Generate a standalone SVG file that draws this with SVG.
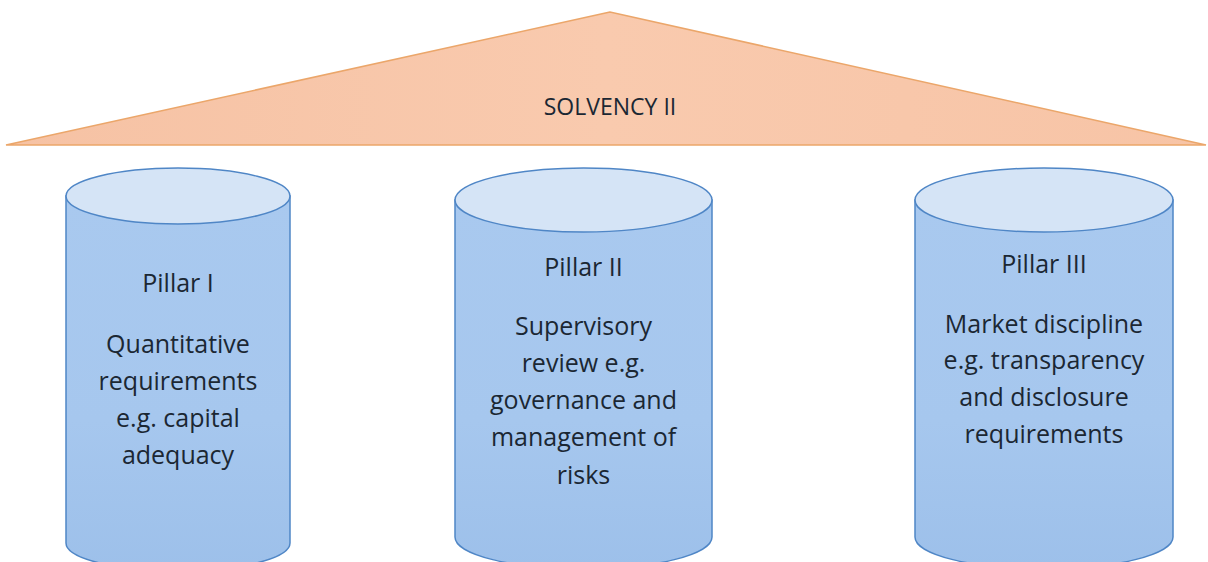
<svg xmlns="http://www.w3.org/2000/svg" width="1208" height="562" viewBox="0 0 1208 562">
<defs>
<linearGradient id="roof" x1="0" y1="0" x2="1" y2="0">
<stop offset="0" stop-color="#f6c2a4"/>
<stop offset="0.5" stop-color="#f9caae"/>
<stop offset="1" stop-color="#f7c4a6"/>
</linearGradient>
<linearGradient id="body" x1="0" y1="0" x2="0" y2="1">
<stop offset="0" stop-color="#a9c9ef"/>
<stop offset="0.6" stop-color="#a6c7ee"/>
<stop offset="1" stop-color="#9dc0ea"/>
</linearGradient>
<style>
.roof{fill:url(#roof);stroke:#eba66a;stroke-width:1.5}
.body{fill:url(#body);stroke:#4f86c6;stroke-width:1.5}
.top{fill:#d5e4f6;stroke:#4f86c6;stroke-width:1.5}
.t{font-family:"Open Sans","Liberation Sans",sans-serif;font-size:25px;fill:#1b2733;text-anchor:middle}
.h{font-family:"Open Sans","Liberation Sans",sans-serif;font-size:23px;fill:#1b2733;text-anchor:middle}
</style>
</defs>
<g id="solvency">
<polygon class="roof" points="610,12 6,145 1206,145"/>
<text class="h" x="610" y="115">SOLVENCY II</text>
</g>
<g id="pillar1">
<path class="body" d="M66,196 L66,543 A112,28 0 0 0 290,543 L290,196 Z"/>
<ellipse class="top" cx="178" cy="196" rx="112" ry="28"/>
<text class="t" x="178" y="292">Pillar I</text>
<text class="t" x="178" y="353">Quantitative</text>
<text class="t" x="178" y="390">requirements</text>
<text class="t" x="178" y="427">e.g. capital</text>
<text class="t" x="178" y="464">adequacy</text>
</g>
<g id="pillar2">
<path class="body" d="M455,200 L455,537 A128.5,32 0 0 0 712,537 L712,200 Z"/>
<ellipse class="top" cx="583.5" cy="200" rx="128.5" ry="32"/>
<text class="t" x="583.5" y="276">Pillar II</text>
<text class="t" x="583.5" y="335">Supervisory</text>
<text class="t" x="583.5" y="372">review e.g.</text>
<text class="t" x="583.5" y="409">governance and</text>
<text class="t" x="583.5" y="446">management of</text>
<text class="t" x="583.5" y="484">risks</text>
</g>
<g id="pillar3">
<path class="body" d="M915,200 L915,537 A129,32 0 0 0 1173,537 L1173,200 Z"/>
<ellipse class="top" cx="1044" cy="200" rx="129" ry="32"/>
<text class="t" x="1044" y="273">Pillar III</text>
<text class="t" x="1044" y="333">Market discipline</text>
<text class="t" x="1044" y="369">e.g. transparency</text>
<text class="t" x="1044" y="406">and disclosure</text>
<text class="t" x="1044" y="443">requirements</text>
</g>
<g id="connectors"/>
</svg>
